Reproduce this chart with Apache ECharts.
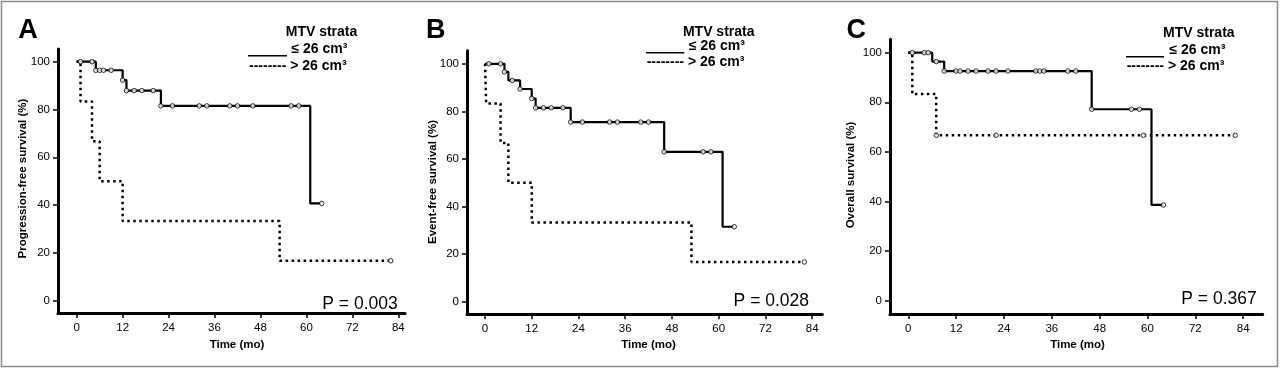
<!DOCTYPE html>
<html><head><meta charset="utf-8">
<script src="https://cdn.jsdelivr.net/npm/echarts@6/dist/echarts.min.js"></script>
<style>html,body{margin:0;padding:0;background:#fff}#c{width:1280px;height:369px}</style>
</head><body><div id="c"></div>
<script>
// ---- data ----
const xTicks = [0, 12, 24, 36, 48, 60, 72, 84];
const yTicks = [0, 20, 40, 60, 80, 100];
const legendLow = '≤ 26 cm³';
const legendHigh = '> 26 cm³';

// A: Progression-free survival
const pfsLowT = [0, 5, 12, 13, 22, 61, 64];
const pfsLowS = [100, 96.4, 92.3, 87.9, 81.5, 40.7, 40.7];
const pfsLowCensor = [1, 4, 5, 6, 7, 9, 12, 13, 15, 17, 20, 22, 25, 32, 34, 40, 42, 46, 56, 58, 64];
const pfsHighT = [0, 1, 4, 6, 12, 53, 82];
const pfsHighS = [100, 83.3, 66.7, 50, 33.3, 16.7, 16.7];
const pfsHighCensor = [82];

// B: Event-free survival
const efsLowT = [0, 5, 6, 9, 12, 13, 22, 46, 61, 64];
const efsLowS = [100, 96.6, 93.0, 89.4, 85.4, 81.5, 75.5, 63.0, 31.5, 31.5];
const efsLowCensor = [1, 4, 5, 7, 9, 12, 13, 15, 17, 20, 22, 25, 32, 34, 40, 42, 46, 56, 58, 64];
const efsHighT = [0, 0.3, 4, 6, 12, 53, 82];
const efsHighS = [100, 83.3, 66.7, 50, 33.3, 16.7, 16.7];
const efsHighCensor = [82];

// C: Overall survival
const osLowT = [0, 6, 9, 46, 61, 64];
const osLowS = [100, 96.4, 92.6, 77.2, 38.6, 38.6];
const osLowCensor = [1, 4, 5, 7, 9, 12, 13, 15, 17, 20, 22, 25, 32, 33, 34, 40, 42, 46, 56, 58, 64];
const osHighT = [0, 1, 7, 82];
const osHighS = [100, 83.3, 66.7, 66.7];
const osHighCensor = [7, 22, 59, 82];

const letters = ['A', 'B', 'C'];
const yNames = ['Progression-free survival (%)', 'Event-free survival (%)', 'Overall survival (%)'];
const pValues = ['P = 0.003', 'P = 0.028', 'P = 0.367'];
const xName = 'Time (mo)';
const legendTitle = 'MTV strata';

// ---- layout (pixels) ----
const layout = [
  {grid: {left: 58, top: 49, width: 347, height: 264}, x: [-4.88, 85.75], y: [-5.15, 105.3],
   letter: [28, 30.8], title: [321.5, 32], seg: [248, 287, 55.7], l1: [291.5, 49.3], l2: [249, 65.7], p: [397.7, 304], yn: [22.7, 178.5], xn: [237, 345]},
  {grid: {left: 467, top: 50.7, width: 355.3, height: 263.6}, x: [-4.62, 86.6], y: [-5.3, 105.5],
   letter: [435.8, 30.8], title: [718.7, 32.3], seg: [646, 684.3, 52.7], l1: [689, 45.7], l2: [646.7, 62], p: [809, 301], yn: [432.7, 182], xn: [648.5, 345]},
  {grid: {left: 890, top: 39.3, width: 372.7, height: 274.7}, x: [-4.59, 88.9], y: [-5.36, 105.4],
   letter: [856.3, 30.8], title: [1198.8, 33.3], seg: [1126, 1164, 56.7], l1: [1169.5, 50], l2: [1126.7, 65.7], p: [1256.7, 299], yn: [851, 175], xn: [1077.5, 345]}
];

const curves = [
  {lowT: pfsLowT, lowS: pfsLowS, lowC: pfsLowCensor, highT: pfsHighT, highS: pfsHighS, highC: pfsHighCensor},
  {lowT: efsLowT, lowS: efsLowS, lowC: efsLowCensor, highT: efsHighT, highS: efsHighS, highC: efsHighCensor},
  {lowT: osLowT, lowS: osLowS, lowC: osLowCensor, highT: osHighT, highS: osHighS, highC: osHighCensor}
];

const FONT = '"Liberation Sans", Arial, Helvetica, sans-serif';

function pairs(T, S) { return T.map((t, i) => [t, S[i]]); }
function stepAt(T, S, t) {
  let v = S[0];
  for (let i = 0; i < T.length; i++) { if (T[i] <= t) v = S[i]; }
  return v;
}

const grids = [], xAxes = [], yAxes = [], series = [], graphics = [];

layout.forEach((L, i) => {
  grids.push(Object.assign({containLabel: false, outerBoundsMode: 'none'}, L.grid));
  xAxes.push({
    type: 'value', gridIndex: i, min: L.x[0], max: L.x[1],
    splitLine: {show: false},
    axisLine: {show: true, onZero: false, lineStyle: {color: '#000', width: 3}},
    axisTick: {show: true, length: 5, lineStyle: {color: '#000', width: 1.5}, customValues: xTicks},
    axisLabel: {show: true, customValues: xTicks, margin: 9, color: '#000', fontSize: 11.5, fontFamily: FONT}
  });
  yAxes.push({
    type: 'value', gridIndex: i, min: L.y[0], max: L.y[1],
    splitLine: {show: false},
    axisLine: {show: true, onZero: false, lineStyle: {color: '#000', width: 3}},
    axisTick: {show: true, length: 5, lineStyle: {color: '#000', width: 1.5}, customValues: yTicks},
    axisLabel: {show: true, customValues: yTicks, margin: 8, color: '#000', fontSize: 11.5, fontFamily: FONT}
  });
  const c = curves[i];
  series.push({
    type: 'line', xAxisIndex: i, yAxisIndex: i, step: 'end', showSymbol: false, silent: true, z: 3,
    data: pairs(c.highT, c.highS),
    lineStyle: {color: '#000', width: 2.5, type: [2.5, 3.5], cap: 'butt'}
  });
  series.push({
    type: 'line', xAxisIndex: i, yAxisIndex: i, step: 'end', showSymbol: false, silent: true, z: 4,
    data: pairs(c.lowT, c.lowS),
    lineStyle: {color: '#000', width: 2.2}
  });
  series.push({
    type: 'scatter', xAxisIndex: i, yAxisIndex: i, silent: true, z: 5,
    symbol: 'circle', symbolSize: 4.5,
    itemStyle: {color: '#fff', borderColor: '#000', borderWidth: 1},
    data: c.highC.map(t => [t, stepAt(c.highT, c.highS, t)])
  });
  series.push({
    type: 'scatter', xAxisIndex: i, yAxisIndex: i, silent: true, z: 6,
    symbol: 'circle', symbolSize: 4.5,
    itemStyle: {color: '#fff', borderColor: '#000', borderWidth: 1},
    data: c.lowC.map(t => [t, stepAt(c.lowT, c.lowS, t)])
  });

  graphics.push({type: 'text', x: L.letter[0], y: L.letter[1], style: {text: letters[i], font: 'bold 27px ' + FONT, fill: '#000', align: 'center', verticalAlign: 'middle'}});
  graphics.push({type: 'text', x: L.title[0], y: L.title[1], style: {text: legendTitle, font: 'bold 14px ' + FONT, fill: '#000', align: 'center', verticalAlign: 'middle'}});
  graphics.push({type: 'line', shape: {x1: L.seg[0], y1: L.seg[2], x2: L.seg[1], y2: L.seg[2]}, style: {stroke: '#000', lineWidth: 1.6}, silent: true});
  graphics.push({type: 'text', x: L.l1[0], y: L.l1[1], style: {text: legendLow, font: 'bold 14px ' + FONT, fill: '#000', align: 'left', verticalAlign: 'middle'}});
  graphics.push({type: 'text', x: L.l2[0], y: L.l2[1], style: {text: '-------- ' + legendHigh, font: 'bold 14px ' + FONT, fill: '#000', align: 'left', verticalAlign: 'middle'}});
  graphics.push({type: 'text', x: L.p[0], y: L.p[1], style: {text: pValues[i], font: '17.5px ' + FONT, fill: '#000', align: 'right', verticalAlign: 'middle'}});
  graphics.push({type: 'text', x: L.yn[0], y: L.yn[1], rotation: Math.PI / 2, style: {text: yNames[i], font: 'bold 11.5px ' + FONT, fill: '#000', align: 'center', verticalAlign: 'middle'}});
  graphics.push({type: 'text', x: L.xn[0], y: L.xn[1], style: {text: xName, font: 'bold 11.5px ' + FONT, fill: '#000', align: 'center', verticalAlign: 'middle'}});
});

graphics.push({type: 'rect', shape: {x: 1.5, y: 1.5, width: 1276, height: 365}, style: {fill: 'none', stroke: '#8a8a8a', lineWidth: 1.5}, silent: true, z: -1});

const chart = echarts.init(document.getElementById('c'), null, {renderer: 'canvas'});
chart.setOption({
  backgroundColor: '#fff',
  animation: false,
  grid: grids,
  xAxis: xAxes,
  yAxis: yAxes,
  series: series,
  graphic: graphics
});
</script>
</body></html>
